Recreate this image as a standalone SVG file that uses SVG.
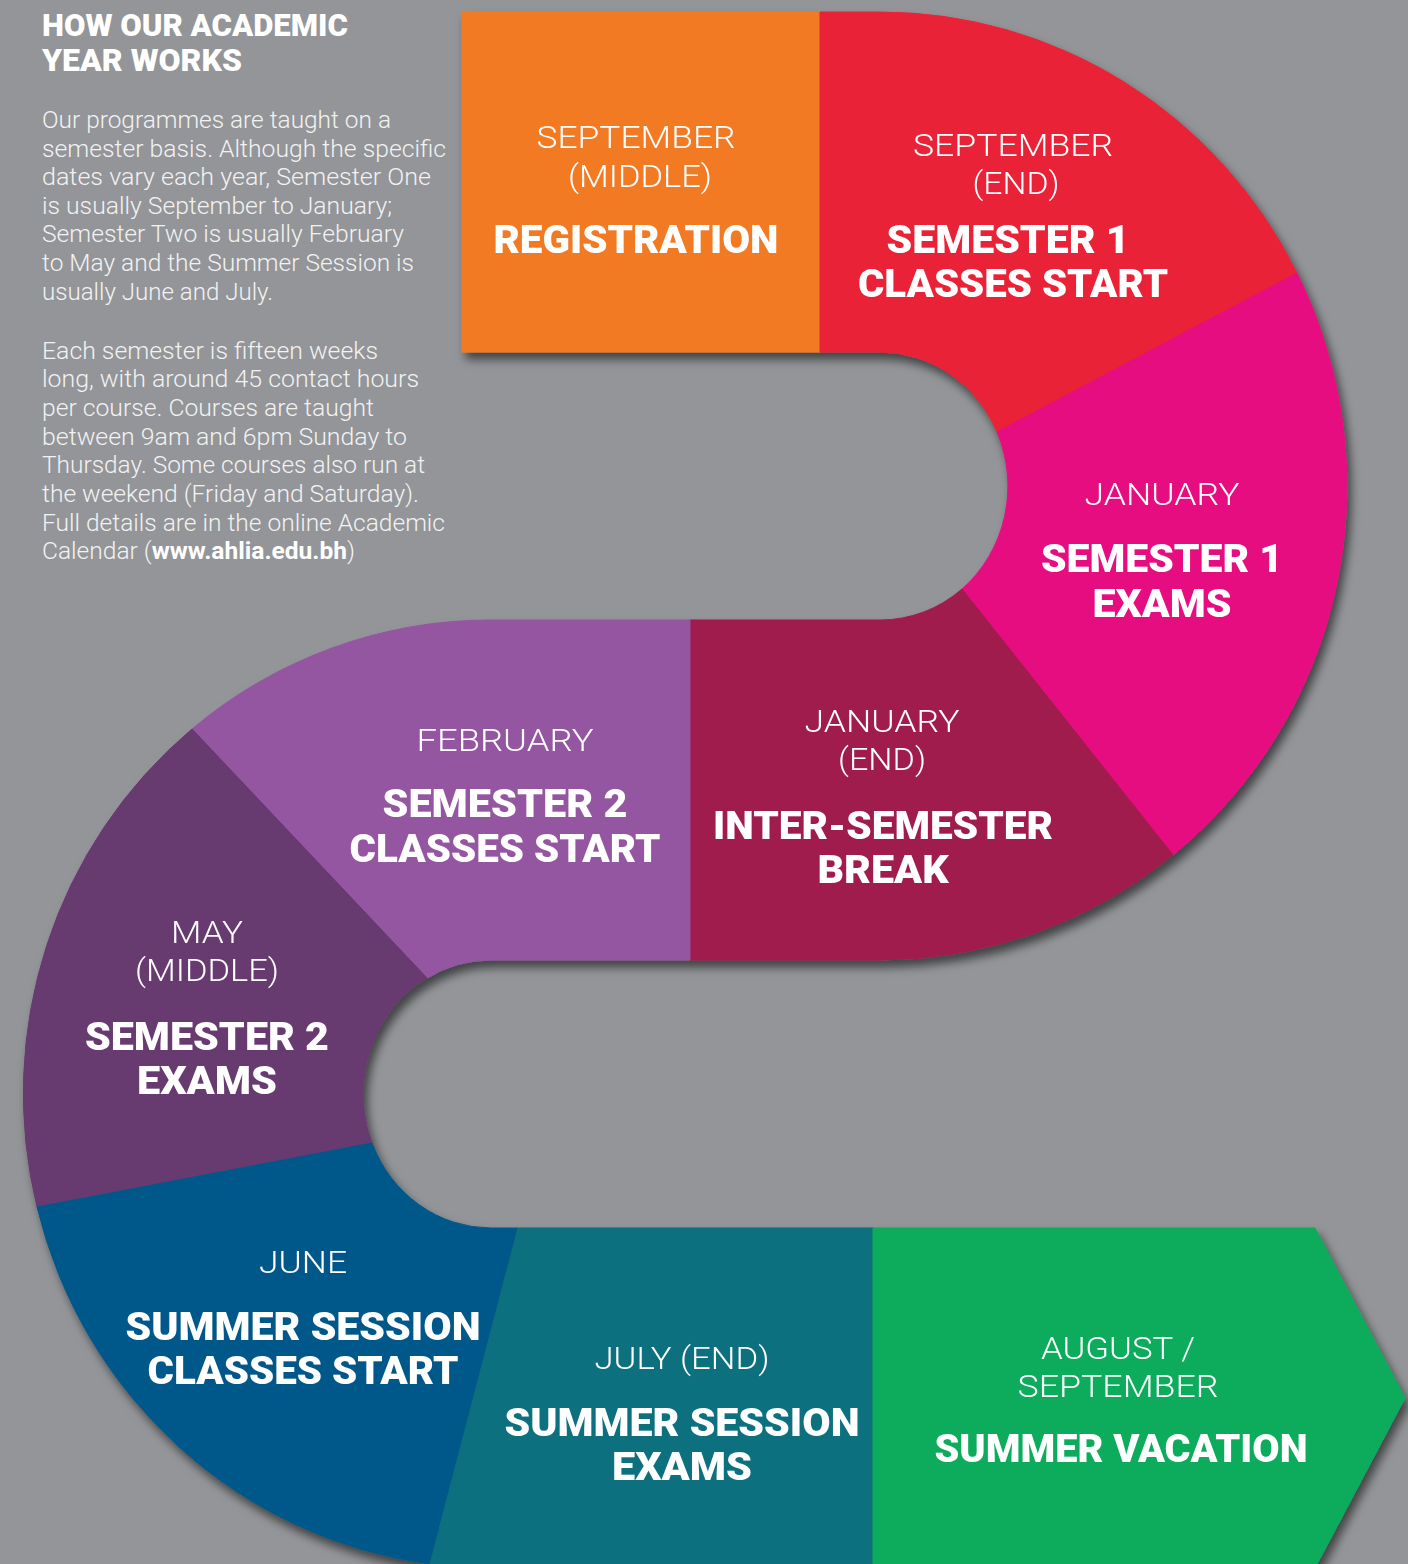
<svg xmlns="http://www.w3.org/2000/svg" width="1408" height="1564" viewBox="0 0 1408 1564">
<defs>
<filter id="shadow" x="-10%" y="-10%" width="120%" height="120%">
<feDropShadow dx="4" dy="7" stdDeviation="5" flood-color="#000" flood-opacity="0.55"/>
</filter>
<style>
.seg{stroke-width:1}
.m{font-family:Roboto,"Liberation Sans",sans-serif;font-weight:300;font-size:32px;fill:#fff;text-anchor:middle}
.t{font-family:Roboto,"Liberation Sans",sans-serif;font-weight:900;font-size:38px;fill:#fff;text-anchor:middle}
.h{font-family:Roboto,"Liberation Sans",sans-serif;font-weight:900;font-size:31px;fill:#fff}
.b{font-family:Roboto,"Liberation Sans",sans-serif;font-weight:300;font-size:24px;fill:#f2f2f2}
</style>
</defs>
<rect width="1408" height="1564" fill="#939598"/>

<g id="intro">
<text class="h" x="42" y="36" textLength="306" lengthAdjust="spacingAndGlyphs">HOW OUR ACADEMIC</text>
<text class="h" x="42" y="71" textLength="200" lengthAdjust="spacingAndGlyphs">YEAR WORKS</text>
<text class="b" x="42" y="128" textLength="349" lengthAdjust="spacingAndGlyphs">Our programmes are taught on a</text>
<text class="b" x="42" y="157" textLength="404" lengthAdjust="spacingAndGlyphs">semester basis. Although the specific</text>
<text class="b" x="42" y="185" textLength="389" lengthAdjust="spacingAndGlyphs">dates vary each year, Semester One</text>
<text class="b" x="42" y="214" textLength="350" lengthAdjust="spacingAndGlyphs">is usually September to January;</text>
<text class="b" x="42" y="242" textLength="362" lengthAdjust="spacingAndGlyphs">Semester Two is usually February</text>
<text class="b" x="42" y="271" textLength="372" lengthAdjust="spacingAndGlyphs">to May and the Summer Session is</text>
<text class="b" x="42" y="300" textLength="231" lengthAdjust="spacingAndGlyphs">usually June and July.</text>
<text class="b" x="42" y="359" textLength="336" lengthAdjust="spacingAndGlyphs">Each semester is fifteen weeks</text>
<text class="b" x="42" y="387" textLength="377" lengthAdjust="spacingAndGlyphs">long, with around 45 contact hours</text>
<text class="b" x="42" y="416" textLength="332" lengthAdjust="spacingAndGlyphs">per course. Courses are taught</text>
<text class="b" x="42" y="445" textLength="365" lengthAdjust="spacingAndGlyphs">between 9am and 6pm Sunday to</text>
<text class="b" x="42" y="473" textLength="383" lengthAdjust="spacingAndGlyphs">Thursday. Some courses also run at</text>
<text class="b" x="42" y="502" textLength="377" lengthAdjust="spacingAndGlyphs">the weekend (Friday and Saturday).</text>
<text class="b" x="42" y="531" textLength="403" lengthAdjust="spacingAndGlyphs">Full details are in the online Academic</text>
<text class="b" x="42" y="559" textLength="313" lengthAdjust="spacingAndGlyphs">Calendar (<tspan font-weight="700" fill="#fff">www.ahlia.edu.bh</tspan>)</text>
</g>

<g id="band" filter="url(#shadow)">
<g id="registration">
<rect class="seg" x="462" y="12" width="358" height="340" fill="#F17A24" stroke="#F17A24"/>
<text class="m" x="636" y="148" textLength="199" lengthAdjust="spacingAndGlyphs">SEPTEMBER</text>
<text class="m" x="640" y="187" textLength="144" lengthAdjust="spacingAndGlyphs">(MIDDLE)</text>
<text class="t" x="636" y="253" textLength="285" lengthAdjust="spacingAndGlyphs">REGISTRATION</text>
</g>
<g id="sem1-classes">
<path class="seg" d="M820,12 H880 A467,474 0 0 1 1297,273 L997,432 A128,134 0 0 0 880,352 H820 Z" fill="#EA2137" stroke="#EA2137"/>
<text class="m" x="1013" y="156" textLength="200" lengthAdjust="spacingAndGlyphs">SEPTEMBER</text>
<text class="m" x="1016" y="194" textLength="87" lengthAdjust="spacingAndGlyphs">(END)</text>
<text class="t" x="1008" y="253" textLength="243" lengthAdjust="spacingAndGlyphs">SEMESTER 1</text>
<text class="t" x="1013" y="297" textLength="310" lengthAdjust="spacingAndGlyphs">CLASSES START</text>
</g>
<g id="sem1-exams">
<path class="seg" d="M1297,273 A467,474 0 0 1 1173,855 L962,589 A128,134 0 0 0 997,432 Z" fill="#E60E80" stroke="#E60E80"/>
<text class="m" x="1162" y="505" textLength="155" lengthAdjust="spacingAndGlyphs">JANUARY</text>
<text class="t" x="1162" y="572" textLength="242" lengthAdjust="spacingAndGlyphs">SEMESTER 1</text>
<text class="t" x="1162" y="617" textLength="139" lengthAdjust="spacingAndGlyphs">EXAMS</text>
</g>
<g id="inter-semester">
<path class="seg" d="M1173,855 A467,474 0 0 1 880,960 H690 V620 H880 A128,134 0 0 0 962,589 Z" fill="#A01D4D" stroke="#A01D4D"/>
<text class="m" x="882" y="732" textLength="155" lengthAdjust="spacingAndGlyphs">JANUARY</text>
<text class="m" x="882" y="770" textLength="88" lengthAdjust="spacingAndGlyphs">(END)</text>
<text class="t" x="883" y="839" textLength="340" lengthAdjust="spacingAndGlyphs">INTER-SEMESTER</text>
<text class="t" x="883" y="883" textLength="131" lengthAdjust="spacingAndGlyphs">BREAK</text>
</g>
<g id="sem2-classes">
<path class="seg" d="M690,620 H491 A468,474 0 0 0 192,729 L427,978 A128,134 0 0 1 491,960 H690 Z" fill="#9455A1" stroke="#9455A1"/>
<text class="m" x="505" y="751" textLength="177" lengthAdjust="spacingAndGlyphs">FEBRUARY</text>
<text class="t" x="505" y="817" textLength="245" lengthAdjust="spacingAndGlyphs">SEMESTER 2</text>
<text class="t" x="505" y="862" textLength="311" lengthAdjust="spacingAndGlyphs">CLASSES START</text>
</g>
<g id="sem2-exams">
<path class="seg" d="M192,729 A468,474 0 0 0 37,1207 L372,1143 A128,134 0 0 1 427,978 Z" fill="#673A70" stroke="#673A70"/>
<text class="m" x="207" y="943" textLength="72" lengthAdjust="spacingAndGlyphs">MAY</text>
<text class="m" x="207" y="981" textLength="144" lengthAdjust="spacingAndGlyphs">(MIDDLE)</text>
<text class="t" x="207" y="1050" textLength="244" lengthAdjust="spacingAndGlyphs">SEMESTER 2</text>
<text class="t" x="207" y="1094" textLength="140" lengthAdjust="spacingAndGlyphs">EXAMS</text>
</g>
<g id="summer-classes">
<path class="seg" d="M37,1207 A468,474 0 0 0 430,1564 L518,1228 H491 A128,134 0 0 1 372,1143 Z" fill="#06588A" stroke="#06588A"/>
<text class="m" x="303" y="1273" textLength="88" lengthAdjust="spacingAndGlyphs">JUNE</text>
<text class="t" x="303" y="1340" textLength="355" lengthAdjust="spacingAndGlyphs">SUMMER SESSION</text>
<text class="t" x="303" y="1384" textLength="311" lengthAdjust="spacingAndGlyphs">CLASSES START</text>
</g>
<g id="summer-exams">
<path class="seg" d="M518,1228 H874 V1568 H491 A468,474 0 0 1 430,1564 Z" fill="#0C6F7E" stroke="#0C6F7E"/>
<text class="m" x="682" y="1369" textLength="175" lengthAdjust="spacingAndGlyphs">JULY (END)</text>
<text class="t" x="682" y="1436" textLength="355" lengthAdjust="spacingAndGlyphs">SUMMER SESSION</text>
<text class="t" x="682" y="1480" textLength="140" lengthAdjust="spacingAndGlyphs">EXAMS</text>
</g>
<g id="summer-vacation">
<path class="seg" d="M873,1228 H1315 L1405,1398 L1315,1568 H873 Z" fill="#0AAC5C" stroke="#0AAC5C"/>
<text class="m" x="1118" y="1359" textLength="154" lengthAdjust="spacingAndGlyphs">AUGUST /</text>
<text class="m" x="1118" y="1397" textLength="201" lengthAdjust="spacingAndGlyphs">SEPTEMBER</text>
<text class="t" x="1121" y="1462" textLength="373" lengthAdjust="spacingAndGlyphs">SUMMER VACATION</text>
</g>
</g>
</svg>
